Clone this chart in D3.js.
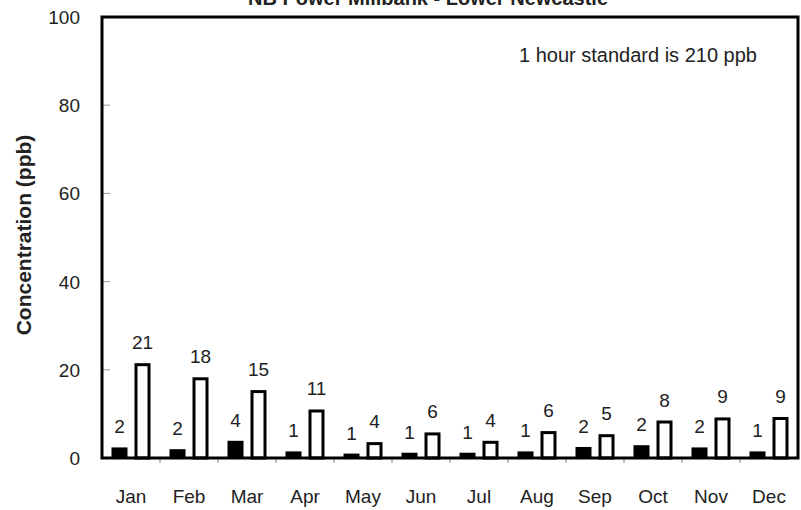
<!DOCTYPE html>
<html><head><meta charset="utf-8">
<script src="https://cdn.jsdelivr.net/npm/d3@7"></script>
<style>body{margin:0;background:#fff;}svg{display:block;font-family:"Liberation Sans",Arial,sans-serif;}</style>
</head><body>
<script>
const months = ["Jan","Feb","Mar","Apr","May","Jun","Jul","Aug","Sep","Oct","Nov","Dec"];
const meanValues = [2.4,2.0,3.9,1.5,1.0,1.2,1.2,1.5,2.5,2.9,2.4,1.5];
const maxValues = [21.5,18.3,15.4,11.0,3.6,5.8,3.9,6.1,5.4,8.5,9.2,9.3];
const meanLabels = ["2","2","4","1","1","1","1","1","2","2","2","1"];
const maxLabels = ["21","18","15","11","4","6","4","6","5","8","9","9"];
const yTicks = [0,20,40,60,80,100];
const titleText = "NB Power Millbank - Lower Newcastle";
const noteText = "1 hour standard is 210 ppb";
const yTitle = "Concentration (ppb)";

const W = 801, H = 510;
const L = 102, R = 798, T = 17, B = 458;
const svg = d3.select("body").append("svg").attr("width", W).attr("height", H);

const x = d3.scaleBand().domain(months).range([L, R]);
const y = d3.scaleLinear().domain([0, 100]).range([B, T]);
const bw = 16, gap = 7;
const off = (x.bandwidth() - (2*bw + gap)) / 2;
const FS = 19;

// y inner ticks
svg.selectAll(".yt").data(yTicks.filter(d => d > 0 && d < 100)).enter().append("line")
  .attr("x1", L).attr("x2", L + 8).attr("y1", d => y(d)).attr("y2", d => y(d))
  .attr("stroke", "#999").attr("stroke-width", 1);
// x ticks below axis
svg.selectAll(".xt").data(months.slice(1)).enter().append("line")
  .attr("x1", d => x(d)).attr("x2", d => x(d)).attr("y1", B).attr("y2", B + 5)
  .attr("stroke", "#888").attr("stroke-width", 1);

// bars
svg.selectAll(".mean").data(months).enter().append("rect")
  .attr("x", d => x(d) + off).attr("width", bw)
  .attr("y", (d,i) => y(meanValues[i])).attr("height", (d,i) => B - y(meanValues[i]))
  .attr("fill", "#000");
svg.selectAll(".max").data(months).enter().append("rect")
  .attr("x", d => x(d) + off + bw + gap + 1.5).attr("width", bw - 3)
  .attr("y", (d,i) => y(maxValues[i]) + 1.5).attr("height", (d,i) => B - y(maxValues[i]) - 1.5)
  .attr("fill", "#fff").attr("stroke", "#000").attr("stroke-width", 3);

// value labels
svg.selectAll(".ml").data(months).enter().append("text")
  .attr("x", d => x(d) + off + bw/2).attr("y", (d,i) => y(meanValues[i]) - 14)
  .attr("text-anchor", "middle").attr("font-size", FS).attr("fill", "#222")
  .text((d,i) => meanLabels[i]);
svg.selectAll(".xl").data(months).enter().append("text")
  .attr("x", d => x(d) + off + bw + gap + bw/2).attr("y", (d,i) => y(maxValues[i]) - 14)
  .attr("text-anchor", "middle").attr("font-size", FS).attr("fill", "#222")
  .text((d,i) => maxLabels[i]);

// frame
svg.append("rect").attr("x", L).attr("y", T).attr("width", R - L).attr("height", B - T)
  .attr("fill", "none").attr("stroke", "#000").attr("stroke-width", 3);

// y tick labels
svg.selectAll(".yl").data(yTicks).enter().append("text")
  .attr("x", 80).attr("y", d => y(d) + 7).attr("text-anchor", "end")
  .attr("font-size", FS).attr("fill", "#222").text(d => d);

// month labels
svg.selectAll(".mo").data(months).enter().append("text")
  .attr("x", d => x(d) + x.bandwidth()/2).attr("y", 503)
  .attr("text-anchor", "middle").attr("font-size", FS).attr("fill", "#222").text(d => d);

// y title
svg.append("text").attr("transform", "translate(31,235) rotate(-90)")
  .attr("text-anchor", "middle").attr("font-size", 21).attr("font-weight", "bold")
  .attr("fill", "#222").text(yTitle);

// title
svg.append("text").attr("x", 428).attr("y", 5).attr("text-anchor", "middle")
  .attr("font-size", 20).attr("font-weight", "bold").attr("fill", "#222").text(titleText);

// note
svg.append("text").attr("x", 638).attr("y", 62).attr("text-anchor", "middle")
  .attr("font-size", 20).attr("fill", "#222").text(noteText);
</script>
</body></html>
